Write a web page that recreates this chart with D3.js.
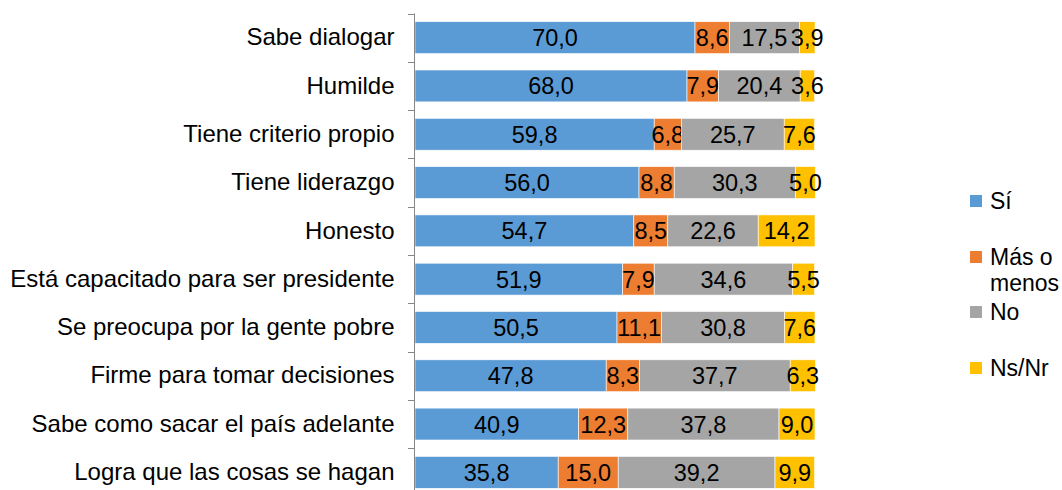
<!DOCTYPE html>
<html>
<head>
<meta charset="utf-8">
<script src="https://cdn.jsdelivr.net/npm/d3@7"></script>
<style>
  body { margin: 0; background: #fff; }
  text { font-family: "Liberation Sans", Arial, sans-serif; fill: #000; }
</style>
</head>
<body>
<svg id="chart" width="1062" height="490"></svg>
<script>
var categories = ["Sabe dialogar", "Humilde", "Tiene criterio propio", "Tiene liderazgo", "Honesto",
  "Está capacitado para ser presidente", "Se preocupa por la gente pobre", "Firme para tomar decisiones",
  "Sabe como sacar el país adelante", "Logra que las cosas se hagan"];
var seriesNames = ["Sí", "Más o menos", "No", "Ns/Nr"];
var si       = [70.0, 68.0, 59.8, 56.0, 54.7, 51.9, 50.5, 47.8, 40.9, 35.8];
var masMenos = [8.6, 7.9, 6.8, 8.8, 8.5, 7.9, 11.1, 8.3, 12.3, 15.0];
var no       = [17.5, 20.4, 25.7, 30.3, 22.6, 34.6, 30.8, 37.7, 37.8, 39.2];
var nsnr     = [3.9, 3.6, 7.6, 5.0, 14.2, 5.5, 7.6, 6.3, 9.0, 9.9];
var colors = ["#5B9BD5", "#ED7D31", "#A5A5A5", "#FFC000"];

var svg = d3.select("#chart");
var plotLeft = 415, plotRight = 815, plotTop = 13.5, band = 48.3;

var rows = categories.map(function(c, i) {
  return {cat: c, Si: si[i], Mas: masMenos[i], No: no[i], Ns: nsnr[i]};
});
var keys = ["Si", "Mas", "No", "Ns"];
var stacked = d3.stack().keys(keys)(rows);

var x = d3.scaleLinear().domain([0, 100]).range([plotLeft, plotRight]);
var y = d3.scaleBand().domain(categories)
  .range([plotTop, plotTop + band * categories.length])
  .paddingInner(0.34).paddingOuter(0.17);

var fmt = function(v) { return d3.format(".1f")(v).replace(".", ","); };

var layers = svg.selectAll(".layer").data(stacked).enter().append("g")
  .attr("class", "layer")
  .attr("fill", function(d, i) { return colors[i]; });

layers.selectAll("rect").data(function(d) { return d; }).enter().append("rect")
  .attr("x", function(d) { return x(d[0]); })
  .attr("y", function(d) { return y(d.data.cat); })
  .attr("width", function(d) { return x(d[1]) - x(d[0]); })
  .attr("height", y.bandwidth())
  .attr("stroke", "#fff")
  .attr("stroke-width", 0.6);

layers.selectAll("text").data(function(d) { return d; }).enter().append("text")
  .attr("x", function(d) { return (x(d[0]) + x(d[1])) / 2; })
  .attr("y", function(d) { return y(d.data.cat) + y.bandwidth() / 2; })
  .attr("dy", "0.36em")
  .attr("text-anchor", "middle")
  .attr("fill", "#000")
  .style("font-size", "23.5px")
  .text(function(d) { return fmt(d[1] - d[0]); });

// category axis
var axis = d3.axisLeft(y).tickSize(0).tickPadding(20);
var ag = svg.append("g").attr("transform", "translate(" + (plotLeft - 0.5) + ",0)").call(axis);
ag.select(".domain").remove();
ag.selectAll("text").style("font-size", "24px").style("font-family", "Liberation Sans, Arial, sans-serif").attr("fill", "#000");
svg.append("line").attr("x1", plotLeft - 0.5).attr("x2", plotLeft - 0.5)
  .attr("y1", plotTop).attr("y2", 490).attr("stroke", "#868686");
var bounds = d3.range(categories.length + 1).map(function(i) { return plotTop + i * band; });
svg.selectAll(".tickm").data(bounds).enter().append("line")
  .attr("x1", plotLeft - 7).attr("x2", plotLeft - 0.5)
  .attr("y1", function(d) { return Math.round(d) + 0.5; })
  .attr("y2", function(d) { return Math.round(d) + 0.5; })
  .attr("stroke", "#868686");

// legend
var legendY = [201, 257, 312, 368];
var lg = svg.selectAll(".legend").data(seriesNames).enter().append("g")
  .attr("transform", function(d, i) { return "translate(970," + legendY[i] + ")"; });
lg.append("rect").attr("x", 0).attr("y", -6).attr("width", 12).attr("height", 12)
  .attr("fill", function(d, i) { return colors[i]; });
lg.append("text").attr("x", 20).attr("dy", "0.36em").style("font-size", "23px")
  .each(function(d) {
    var t = d3.select(this);
    if (d === "Más o menos") {
      t.append("tspan").attr("x", 20).text("Más o");
      t.append("tspan").attr("x", 20).attr("dy", "26px").text("menos");
    } else {
      t.text(d);
    }
  });
</script>
</body>
</html>
